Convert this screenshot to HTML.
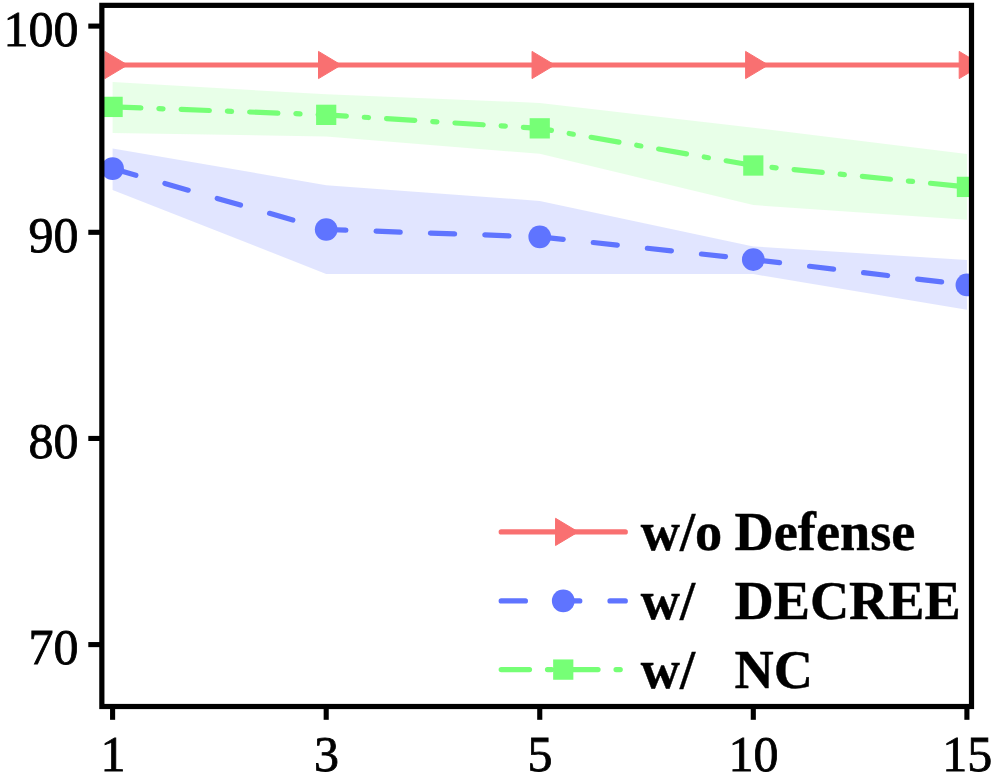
<!DOCTYPE html>
<html><head><meta charset="utf-8"><title>chart</title>
<style>
html,body{margin:0;padding:0;background:#fff;}
body{width:996px;height:782px;overflow:hidden;font-family:"Liberation Serif",serif;}
svg{display:block}
text{font-family:"Liberation Serif",serif;fill:#000}
.tk{font-size:50px;stroke:#000;stroke-width:0.8px}
.lg{font-size:54.3px;font-weight:bold;stroke:#000;stroke-width:0.4px}
</style></head><body>
<svg width="996" height="782" viewBox="0 0 996 782">
<rect width="996" height="782" fill="#fff"/>
<defs><clipPath id="ax"><rect x="101.9" y="5.3" width="869.6" height="701.2"/></clipPath></defs>
<g clip-path="url(#ax)">
<polygon points="112.60,82.10 326.20,94.30 539.75,102.90 753.30,127.80 966.90,153.90 966.90,219.80 753.30,205.10 539.75,153.80 326.20,136.40 112.60,132.90" fill="#76ff76" fill-opacity="0.17"/>
<polygon points="112.60,148.40 326.20,185.15 539.75,200.90 753.30,246.40 966.90,260.06 966.90,309.75 753.30,274.10 539.75,274.10 326.20,273.90 112.60,189.90" fill="#5f74ff" fill-opacity="0.188"/>
<polyline points="112.60,65.00 326.20,65.00 539.75,65.00 753.30,65.00 966.90,65.00" fill="none" stroke="#f97071" stroke-width="5.2"/>
<polyline points="112.60,168.60 326.20,229.50 539.75,236.85 753.30,259.55 966.90,284.95" fill="none" stroke="#5f74ff" stroke-width="5.2" stroke-dasharray="24.2 30.2" stroke-linecap="round" stroke-linejoin="round"/>
<polyline points="112.60,106.90 326.20,114.85 539.75,128.35 753.30,165.50 966.90,186.90" fill="none" stroke="#76ff76" stroke-width="5.2" stroke-dasharray="28.3 18 4.2 18.05" stroke-linecap="round" stroke-linejoin="round"/>

<polygon points="104.90,51.40 104.90,78.60 127.60,65.00" fill="#f97071" stroke="#f97071" stroke-width="1" stroke-linejoin="round"/>
<polygon points="318.50,51.40 318.50,78.60 341.20,65.00" fill="#f97071" stroke="#f97071" stroke-width="1" stroke-linejoin="round"/>
<polygon points="532.05,51.40 532.05,78.60 554.75,65.00" fill="#f97071" stroke="#f97071" stroke-width="1" stroke-linejoin="round"/>
<polygon points="745.60,51.40 745.60,78.60 768.30,65.00" fill="#f97071" stroke="#f97071" stroke-width="1" stroke-linejoin="round"/>
<polygon points="959.20,51.40 959.20,78.60 981.90,65.00" fill="#f97071" stroke="#f97071" stroke-width="1" stroke-linejoin="round"/>
<circle cx="112.60" cy="168.60" r="11.35" fill="#5f74ff"/>
<circle cx="326.20" cy="229.50" r="11.35" fill="#5f74ff"/>
<circle cx="539.75" cy="236.85" r="11.35" fill="#5f74ff"/>
<circle cx="753.30" cy="259.55" r="11.35" fill="#5f74ff"/>
<circle cx="966.90" cy="284.95" r="11.35" fill="#5f74ff"/>
<rect x="102.50" y="96.75" width="20.2" height="20.3" fill="#76ff76"/>
<rect x="316.10" y="104.70" width="20.2" height="20.3" fill="#76ff76"/>
<rect x="529.65" y="118.20" width="20.2" height="20.3" fill="#76ff76"/>
<rect x="743.20" y="155.35" width="20.2" height="20.3" fill="#76ff76"/>
<rect x="956.80" y="176.75" width="20.2" height="20.3" fill="#76ff76"/>
</g>

<rect x="101.85" y="5.35" width="869.65" height="701.15" fill="none" stroke="#000" stroke-width="5.2"/>

<rect x="110.05" y="706" width="5.1" height="13.8" fill="#000"/>
<rect x="323.65" y="706" width="5.1" height="13.8" fill="#000"/>
<rect x="537.20" y="706" width="5.1" height="13.8" fill="#000"/>
<rect x="750.75" y="706" width="5.1" height="13.8" fill="#000"/>
<rect x="964.35" y="706" width="5.1" height="13.8" fill="#000"/>
<rect x="88.3" y="23.55" width="12" height="5.1" fill="#000"/>
<rect x="88.3" y="229.75" width="12" height="5.1" fill="#000"/>
<rect x="88.3" y="435.90" width="12" height="5.1" fill="#000"/>
<rect x="88.3" y="642.05" width="12" height="5.1" fill="#000"/>
<text class="tk" transform="translate(78.6,45.55) scale(1,1.0)" text-anchor="end">100</text>
<text class="tk" transform="translate(78.6,251.75) scale(1,1.0)" text-anchor="end">90</text>
<text class="tk" transform="translate(78.6,457.90) scale(1,1.0)" text-anchor="end">80</text>
<text class="tk" transform="translate(78.6,664.05) scale(1,1.0)" text-anchor="end">70</text>
<text class="tk" transform="translate(112.90,771.2) scale(1,1.0)" text-anchor="middle">1</text>
<text class="tk" transform="translate(326.50,771.2) scale(1,1.0)" text-anchor="middle">3</text>
<text class="tk" transform="translate(540.05,771.2) scale(1,1.0)" text-anchor="middle">5</text>
<text class="tk" transform="translate(753.60,771.2) scale(1,1.0)" text-anchor="middle">10</text>
<text class="tk" transform="translate(967.20,771.2) scale(1,1.0)" text-anchor="middle">15</text>
<line x1="501.2" y1="531.9" x2="625.3" y2="531.9" stroke="#f97071" stroke-width="5.2" stroke-linecap="round"/>
<polygon points="555.55,518.30 555.55,545.50 578.25,531.90" fill="#f97071" stroke="#f97071" stroke-width="1" stroke-linejoin="round"/>
<line x1="501.2" y1="600.9" x2="625.3" y2="600.9" stroke="#5f74ff" stroke-width="5.2" stroke-linecap="round" stroke-dasharray="24.2 30.2"/>
<circle cx="563.25" cy="600.90" r="11.35" fill="#5f74ff"/>
<line x1="501.2" y1="669.6" x2="625.3" y2="669.6" stroke="#76ff76" stroke-width="5.2" stroke-linecap="round" stroke-dasharray="28.3 18 4.2 18.05"/>
<rect x="553.15" y="659.45" width="20.2" height="20.3" fill="#76ff76"/>
<text class="lg" transform="translate(640.7,549.80) scale(1,1.03)">w/o</text>
<text class="lg" transform="translate(734.5,549.80) scale(1,1.03)">Defense</text>
<text class="lg" transform="translate(640.7,618.80) scale(1,1.03)">w/</text>
<text class="lg" transform="translate(734.5,618.80) scale(1,1.03)">DECREE</text>
<text class="lg" transform="translate(640.7,687.50) scale(1,1.03)">w/</text>
<text class="lg" transform="translate(734.5,687.50) scale(1,1.03)">NC</text>

</svg></body></html>
